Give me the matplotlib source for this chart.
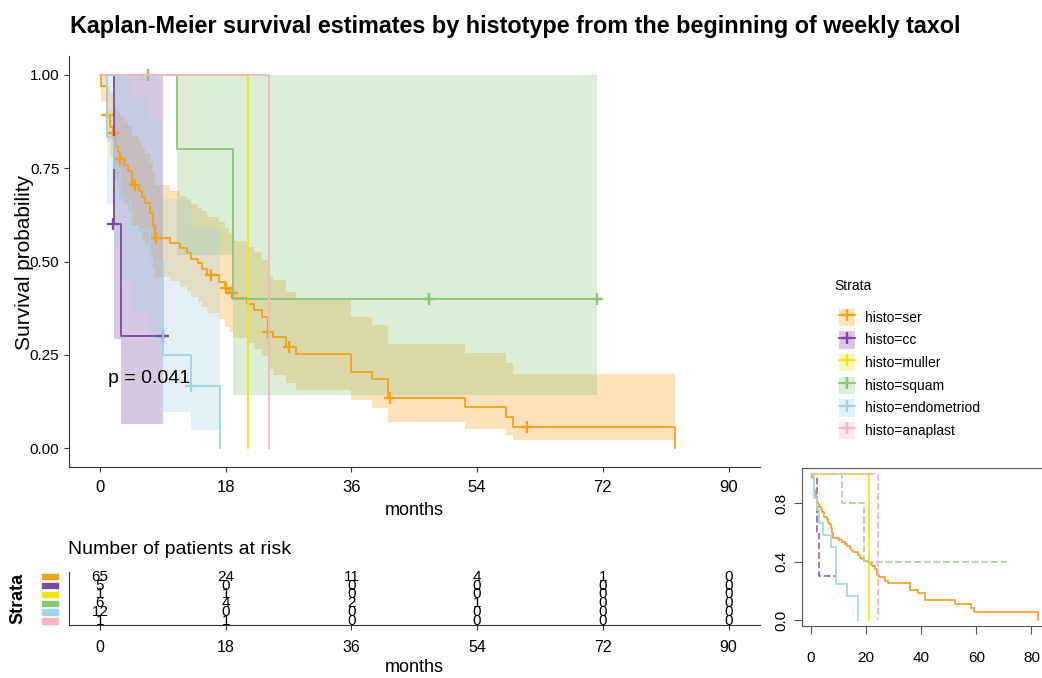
import matplotlib.pyplot as plt
from matplotlib import font_manager
from matplotlib.patches import Patch, Rectangle
from matplotlib.lines import Line2D

nombres = {f.name for f in font_manager.fontManager.ttflist}
angosta = 'Liberation Sans Narrow' if 'Liberation Sans Narrow' in nombres else 'Liberation Sans'
plt.rcParams['font.family'] = ['Liberation Sans', 'DejaVu Sans']

estratos = ['histo=ser', 'histo=cc', 'histo=muller', 'histo=squam', 'histo=endometriod', 'histo=anaplast']
colores = ['#F5A11C', '#7B4A9E', '#EDE51A', '#8CC47E', '#A5D3E6', '#F4B6C4']
colores_base = ['#F5A52E', '#9A6BB8', '#F0E62A', '#A8D69C', '#A9D5E8', '#F4B6C4']

# curvas KM: tiempo de cada escalon, supervivencia y banda de confianza
ser_t = [0, 0.15, 0.95, 1.5, 1.8, 2.2, 2.6, 2.9, 3.5, 4.0, 4.6, 5.6, 6.0, 6.4, 7.15, 7.6, 7.9,
         10.0, 11.4, 12.4, 13.1, 14.0, 14.6, 15.4, 17.0, 17.9, 18.5, 19.1, 21.0, 22.0, 23.2,
         24.0, 24.8, 26.7, 28.1, 36.0, 39.0, 41.2, 52.2, 58.2, 59.1, 82.3]
ser_s = [1.0, 0.969, 0.892, 0.860, 0.843, 0.810, 0.792, 0.775, 0.758, 0.741, 0.705, 0.689, 0.672,
         0.656, 0.629, 0.594, 0.563, 0.549, 0.535, 0.522, 0.508, 0.495, 0.480, 0.464, 0.446,
         0.428, 0.415, 0.401, 0.386, 0.370, 0.352, 0.312, 0.298, 0.270, 0.252, 0.205, 0.185,
         0.135, 0.111, 0.084, 0.057, 0.0]
ser_lo = [1.0, 0.93, 0.82, 0.78, 0.757, 0.72, 0.70, 0.674, 0.655, 0.636, 0.596, 0.578, 0.560,
          0.544, 0.518, 0.486, 0.459, 0.447, 0.432, 0.42, 0.405, 0.392, 0.378, 0.362, 0.345,
          0.326, 0.312, 0.296, 0.282, 0.266, 0.248, 0.211, 0.196, 0.174, 0.155, 0.128, 0.107,
          0.07, 0.053, 0.035, 0.021, 0.021]
ser_hi = [1.0, 1.0, 0.97, 0.95, 0.939, 0.91, 0.90, 0.89, 0.875, 0.862, 0.835, 0.82, 0.805,
          0.79, 0.765, 0.735, 0.705, 0.69, 0.674, 0.665, 0.655, 0.643, 0.635, 0.62, 0.607,
          0.59, 0.575, 0.555, 0.54, 0.525, 0.505, 0.462, 0.45, 0.419, 0.40, 0.352, 0.33,
          0.28, 0.254, 0.228, 0.20, 0.20]
ser_ct = [1.05, 1.8, 2.9, 5.0, 8.05, 15.9, 18.1, 18.9, 24.1, 27.0, 41.5, 61.2]
ser_cs = [0.892, 0.843, 0.775, 0.705, 0.563, 0.464, 0.428, 0.415, 0.312, 0.270, 0.135, 0.057]

cc_t = [0, 2.05, 3.0, 9.06]
cc_s = [1.0, 0.6, 0.3, 0.3]
cc_lo = [1.0, 0.293, 0.065, 0.065]
cc_hi = [1.0, 1.0, 1.0, 1.0]
cc_ct = [1.9, 9.06]
cc_cs = [0.6, 0.3]

muller_t = [0, 21.2]
muller_s = [1.0, 0.0]

squam_t = [0, 11.1, 19.1, 71.2]
squam_s = [1.0, 0.8, 0.4, 0.4]
squam_lo = [1.0, 0.517, 0.142, 0.142]
squam_hi = [1.0, 1.0, 1.0, 1.0]
squam_ct = [6.9, 47.1, 71.2]
squam_cs = [1.0, 0.4, 0.4]

endo_t = [0, 1.0, 2.05, 2.86, 4.3, 7.15, 9.06, 13.1, 17.2]
endo_s = [1.0, 0.833, 0.75, 0.667, 0.583, 0.5, 0.25, 0.167, 0.0]
endo_lo = [1.0, 0.655, 0.541, 0.447, 0.361, 0.284, 0.097, 0.05, 0.05]
endo_hi = [1.0, 1.0, 1.0, 0.994, 0.94, 0.88, 0.666, 0.59, 0.59]
endo_ct = [13.1]
endo_cs = [0.167]

anaplast_t = [0, 24.2]
anaplast_s = [1.0, 0.0]

# pacientes en riesgo
tiempos_riesgo = [0, 18, 36, 54, 72, 90]
riesgo = [[65, 24, 11, 4, 1, 0],
          [5, 0, 0, 0, 0, 0],
          [1, 1, 0, 0, 0, 0],
          [6, 4, 2, 1, 0, 0],
          [12, 0, 0, 0, 0, 0],
          [1, 1, 0, 0, 0, 0]]

curvas = [(ser_t, ser_s), (cc_t, cc_s), (muller_t, muller_s), (squam_t, squam_s),
          (endo_t, endo_s), (anaplast_t, anaplast_s)]
bandas = [(ser_t, ser_lo, ser_hi), (cc_t, cc_lo, cc_hi), None, (squam_t, squam_lo, squam_hi),
          (endo_t, endo_lo, endo_hi), None]
censuras = [(ser_ct, ser_cs), (cc_ct, cc_cs), None, (squam_ct, squam_cs), (endo_ct, endo_cs), None]

W, H = 1042, 678
fig = plt.figure(figsize=(W / 100, H / 100), dpi=100)

def caja(x0, y0, x1, y1):
    # pixeles (origen arriba-izquierda) a fraccion de figura
    return [x0 / W, 1 - y1 / H, (x1 - x0) / W, (y1 - y0) / H]

fig.text(70 / W, 1 - 27 / H, 'Kaplan-Meier survival estimates by histotype from the beginning of weekly taxol',
         fontsize=16.8, fontweight='bold', family=angosta, ha='left', va='center')

# grafico principal
ax = fig.add_axes(caja(68.5, 56, 760, 467))
for i, b in enumerate(bandas):
    if b is None:
        continue
    ax.fill_between(b[0], b[1], b[2], step='post', color=colores[i], alpha=0.3, linewidth=0)
for i, (t, s) in enumerate(curvas):
    ax.step(t, s, where='post', color=colores[i], lw=1.3)
    if censuras[i] is not None:
        ax.plot(censuras[i][0], censuras[i][1], ls='none', marker='+', color=colores[i],
                markersize=9, mew=1.7)

ax.text(1.15, 0.188, 'p = 0.041', fontsize=14, ha='left', va='center')
ax.set_xlim(-4.5, 94.5)
ax.set_ylim(-0.05, 1.05)
ax.set_xticks(tiempos_riesgo)
ax.set_xticklabels([str(t) for t in tiempos_riesgo], family=angosta, fontsize=12)
ax.set_yticks([0, 0.25, 0.5, 0.75, 1.0])
ax.set_yticklabels(['0.00', '0.25', '0.50', '0.75', '1.00'], fontsize=11)
ax.spines[['top', 'right']].set_visible(False)
for sp in ['left', 'bottom']:
    ax.spines[sp].set_color('#333333')
ax.tick_params(length=3.5, color='#333333', pad=3)
ax.tick_params(axis='x', pad=6)
ax.set_xlabel('months', family=angosta, fontsize=13, labelpad=5)
fig.text(25 / W, 1 - 262 / H, 'Survival probability', rotation=90, fontsize=15, ha='center', va='center')

# leyenda
fig.text(834 / W, 1 - 286 / H, 'Strata', family=angosta, fontsize=10, ha='left', va='center')
manejadores = [(Patch(facecolor=c, alpha=0.3, edgecolor='none'),
                Line2D([], [], color=c, lw=1.3, marker='+', markersize=9, mew=1.7)) for c in colores]
leg = fig.legend(manejadores, estratos, loc='upper left',
                 bbox_to_anchor=(826 / W, 1 - 296 / H), frameon=False,
                 prop={'family': angosta, 'size': 10},
                 handlelength=1.2, handleheight=1.55, labelspacing=0.38, handletextpad=0.7)

# tabla de pacientes en riesgo
fig.text(68 / W, 1 - 549 / H, 'Number of patients at risk', family=angosta, fontsize=14,
         ha='left', va='center')
axr = fig.add_axes(caja(68.5, 572.2, 760, 625))
axr.set_xlim(-4.5, 94.5)
axr.set_ylim(0.55, 6.5)
for i, fila in enumerate(riesgo):
    y = 6 - i
    for t, n in zip(tiempos_riesgo, fila):
        axr.text(t, y, str(n), family=angosta, fontsize=11, ha='center', va='center')
    axr.add_patch(Rectangle((-0.038, y - 0.31), 0.0235, 0.62, transform=axr.get_yaxis_transform(),
                            color=colores[i], clip_on=False))
axr.set_xticks(tiempos_riesgo)
axr.set_xticklabels([str(t) for t in tiempos_riesgo], family=angosta, fontsize=11.5)
axr.set_yticks([])
axr.spines[['top', 'right']].set_visible(False)
for sp in ['left', 'bottom']:
    axr.spines[sp].set_color('#333333')
axr.tick_params(length=3.5, color='#333333', pad=7)
axr.set_xlabel('months', family=angosta, fontsize=13, labelpad=3)
fig.text(18 / W, 1 - 598 / H, 'Strata', rotation=90, fontsize=13, fontweight='bold', ha='center', va='center')

# grafico base pequeno
axi = fig.add_axes(caja(802, 468, 1046, 626))
estilos = ['-', '--', '-', '--', '-', '--']
for i, (t, s) in enumerate(curvas):
    axi.step(t, s, where='post', color=colores_base[i], lw=1.3, ls=estilos[i])
axi.set_xlim(-3.3, 85.3)
axi.set_ylim(-0.04, 1.04)
axi.set_xticks([0, 20, 40, 60, 80])
axi.set_xticklabels(['0', '20', '40', '60', '80'], family=angosta, fontsize=11)
axi.set_yticks([0, 0.4, 0.8])
axi.set_yticklabels(['0.0', '0.4', '0.8'], family=angosta, fontsize=11, rotation=90, va='center')
for sp in axi.spines.values():
    sp.set_color('#555555')
axi.tick_params(length=6, color='#555555', pad=12)
axi.tick_params(axis='y', pad=4)

fig.savefig('out.png', dpi=100)
